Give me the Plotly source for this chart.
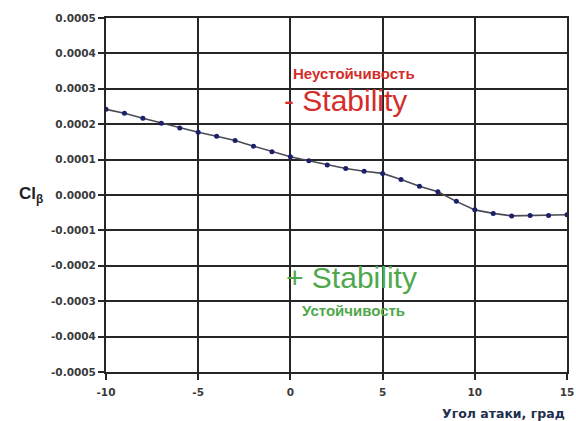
import plotly.graph_objects as go

# Angle of attack (deg) and roll-moment derivative Cl_beta
alpha = list(range(-10, 16))
cl_beta = [0.000242, 0.000231, 0.000217, 0.000203, 0.000189, 0.000177, 0.000166,
           0.000154, 0.000138, 0.000122, 0.000108, 0.000097, 0.000085, 0.000075,
           0.000067, 0.000061, 0.000044, 0.000025, 0.000009, -0.000018, -0.000042,
           -0.000052, -0.000059, -0.000058, -0.000058, -0.000056]

x_ticks = [-10, -5, 0, 5, 10, 15]
y_tick_vals = [0.0005, 0.0004, 0.0003, 0.0002, 0.0001, 0.0, -0.0001, -0.0002, -0.0003, -0.0004, -0.0005]
y_tick_text = ["0.0005", "0.0004", "0.0003", "0.0002", "0.0001", "0.0000",
               "-0.0001", "-0.0002", "-0.0003", "-0.0004", "-0.0005"]

SANS = "Liberation Sans, Arial, sans-serif"
WIDE = "DejaVu Sans, sans-serif"

fig = go.Figure()
fig.add_trace(go.Scatter(
    x=alpha, y=cl_beta, mode="lines+markers",
    line=dict(color="#4a4a55", width=1.6),
    marker=dict(color="#1c1f6b", size=5),
    showlegend=False,
))

tick_font = dict(family=WIDE, size=10.5, color="#3a3a3a")
axis_style = dict(
    showgrid=True, gridcolor="#262626", gridwidth=1.6,
    showline=True, linecolor="#262626", linewidth=2, mirror=True,
    ticks="outside", ticklen=6, tickcolor="#262626", tickwidth=1.5,
    tickfont=tick_font, zeroline=False, automargin=False,
)
fig.update_xaxes(range=[-10, 15], tickvals=x_ticks,
                 ticktext=[f"<b>{v}</b>" for v in x_ticks],
                 ticklabelstandoff=3, **axis_style)
fig.update_yaxes(range=[-0.0005, 0.0005], tickvals=y_tick_vals,
                 ticktext=[f"<b>{t}</b>" for t in y_tick_text], **axis_style)

red = "#d42d2a"
green = "#4fa84c"
ann = [
    dict(x=3.43, y=0.000344, text="<b>Неустойчивость</b>", font=dict(size=15, color=red)),
    dict(x=2.99, y=0.000267, text="- Stability", font=dict(size=30, color=red)),
    dict(x=3.29, y=-0.000232, text="+ Stability", font=dict(size=30, color=green)),
    dict(x=3.4, y=-0.000325, text="<b>Устойчивость</b>", font=dict(size=15, color=green)),
]
for a in ann:
    a["font"]["family"] = SANS
    fig.add_annotation(xref="x", yref="y", showarrow=False, **a)

fig.add_annotation(xref="paper", yref="paper", x=-0.163, y=0.5,
                   xanchor="center", yanchor="middle", showarrow=False,
                   text="<b>Cl<sub>β</sub></b>",
                   font=dict(family=SANS, size=17, color="#222222"))
fig.add_annotation(xref="paper", yref="paper", x=1.0, y=-0.116,
                   xanchor="right", yanchor="middle", showarrow=False,
                   text="<b>Угол атаки, град</b>",
                   font=dict(family=WIDE, size=12.5, color="#1f2f4f"))

fig.update_layout(
    width=576, height=421,
    margin=dict(l=106, r=9, t=18, b=49, autoexpand=False),
    paper_bgcolor="white", plot_bgcolor="white",
)

fig.write_html("out.html")
